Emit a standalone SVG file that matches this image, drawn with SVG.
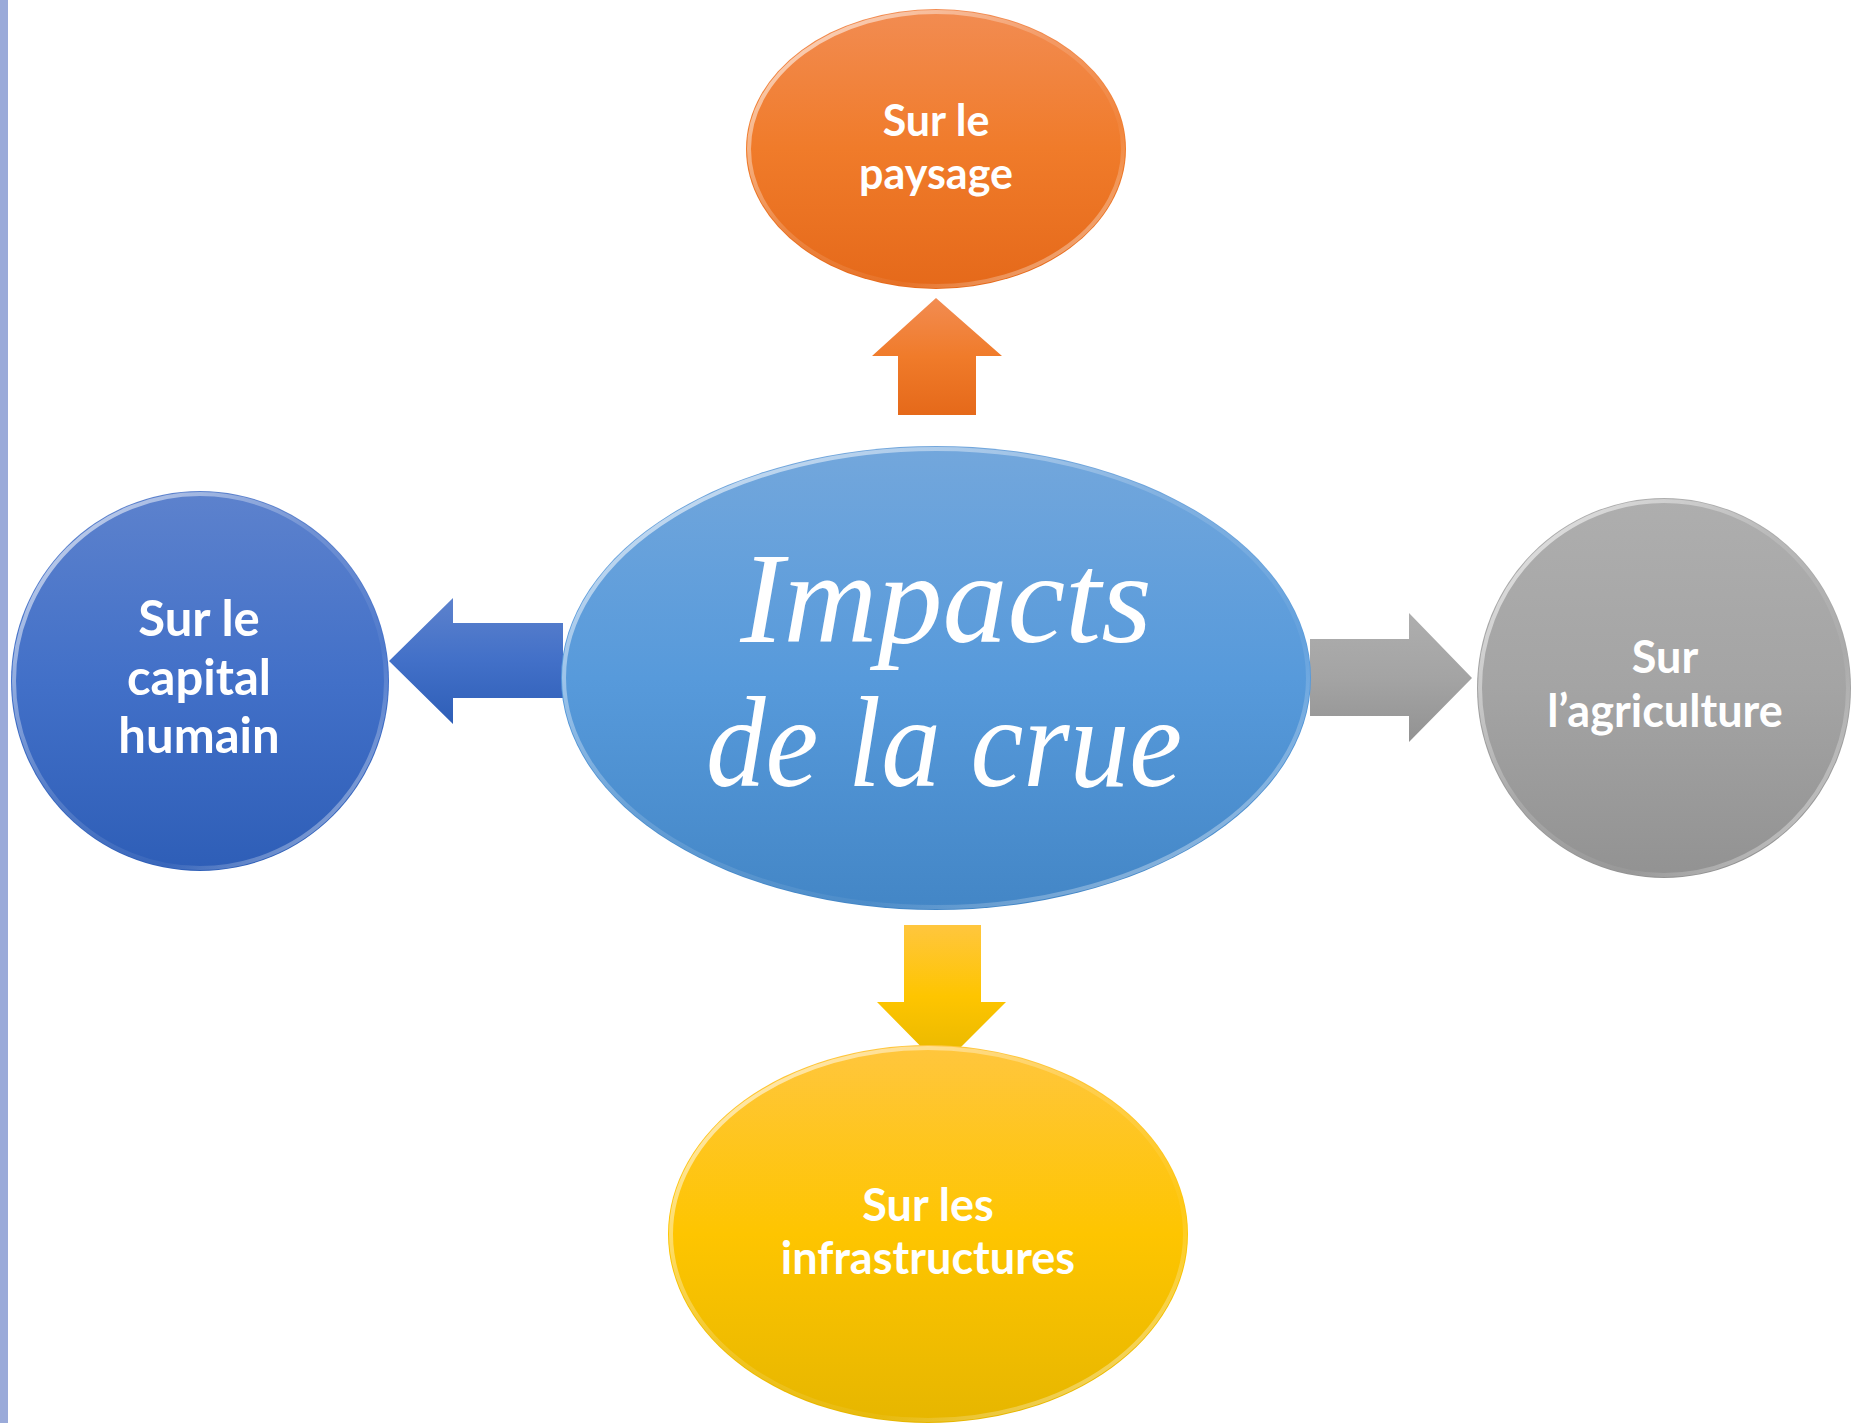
<svg xmlns="http://www.w3.org/2000/svg" width="1853" height="1423" viewBox="0 0 1853 1423">
<defs>
<linearGradient id="gOrange" x1="0" y1="0" x2="0" y2="1"><stop offset="0" stop-color="#F28C52"/><stop offset="0.5" stop-color="#F07B2A"/><stop offset="1" stop-color="#E5691A"/></linearGradient>
<linearGradient id="gBlue" x1="0" y1="0" x2="0" y2="1"><stop offset="0" stop-color="#73A7DC"/><stop offset="0.5" stop-color="#579ADB"/><stop offset="1" stop-color="#4386C6"/></linearGradient>
<linearGradient id="gDark" x1="0" y1="0" x2="0" y2="1"><stop offset="0" stop-color="#5D82CD"/><stop offset="0.5" stop-color="#4270C8"/><stop offset="1" stop-color="#2E5EB7"/></linearGradient>
<linearGradient id="gGray" x1="0" y1="0" x2="0" y2="1"><stop offset="0" stop-color="#AEAEAE"/><stop offset="0.5" stop-color="#A4A4A4"/><stop offset="1" stop-color="#929292"/></linearGradient>
<linearGradient id="gYellow" x1="0" y1="0" x2="0" y2="1"><stop offset="0" stop-color="#FFC63E"/><stop offset="0.5" stop-color="#FEC500"/><stop offset="1" stop-color="#E6B600"/></linearGradient>
<linearGradient id="gRim" x1="0" y1="0" x2="1" y2="1"><stop offset="0" stop-color="#FFFFFF" stop-opacity="0.75"/><stop offset="0.45" stop-color="#FFFFFF" stop-opacity="0.15"/><stop offset="0.7" stop-color="#FFFFFF" stop-opacity="0.05"/><stop offset="1" stop-color="#FFFFFF" stop-opacity="0.6"/></linearGradient>
</defs>
<style>
.lbl{font-family:Lato,"Open Sans","Liberation Sans",sans-serif;font-weight:700;fill:#FFFFFF;text-anchor:middle}
.main{font-family:"Liberation Serif","DejaVu Serif",serif;font-style:italic;font-size:130px;fill:#FFFFFF;text-anchor:middle}
.rim{fill:none;stroke:url(#gRim);stroke-width:4}
</style>
<rect x="0" y="0" width="1853" height="1423" fill="#FFFFFF"/>
<rect x="0" y="0" width="8" height="1423" fill="#9AAAD9"/>
<g id="connectors">
<polygon points="936,298 1002,356 976,356 976,415 898,415 898,356 872,356" fill="url(#gOrange)"/>
<polygon points="389,661 453,598 453,623 563,623 563,698 453,698 453,724" fill="url(#gDark)"/>
<polygon points="1472,678 1409,613 1409,639 1310,639 1310,716 1409,716 1409,742" fill="url(#gGray)"/>
<polygon points="941,1067 1006,1002 981,1002 981,925 904,925 904,1002 877,1002" fill="url(#gYellow)"/>
</g>
<g id="node-paysage">
<ellipse cx="936" cy="149" rx="190" ry="140" fill="url(#gOrange)"/>
<ellipse cx="936" cy="149" rx="187" ry="137" class="rim"/>
<text class="lbl" font-size="43" x="936" y="136">Sur le</text>
<text class="lbl" font-size="43" x="936" y="189">paysage</text>
</g>
<g id="node-center">
<ellipse cx="936" cy="678" rx="375" ry="232" fill="url(#gBlue)"/>
<ellipse cx="936" cy="678" rx="372" ry="229" class="rim"/>
<text class="main" x="946" y="642">Impacts</text>
<text class="main" x="944" y="786" textLength="476" lengthAdjust="spacingAndGlyphs">de la crue</text>
</g>
<g id="node-capital">
<ellipse cx="200" cy="681" rx="189" ry="190" fill="url(#gDark)"/>
<ellipse cx="200" cy="681" rx="186" ry="187" class="rim"/>
<text class="lbl" font-size="49" x="199" y="636">Sur le</text>
<text class="lbl" font-size="49" x="199" y="695">capital</text>
<text class="lbl" font-size="49" x="199" y="753">humain</text>
</g>
<g id="node-agriculture">
<ellipse cx="1664" cy="688" rx="187" ry="190" fill="url(#gGray)"/>
<ellipse cx="1664" cy="688" rx="184" ry="187" class="rim"/>
<text class="lbl" font-size="45" x="1665" y="673">Sur</text>
<text class="lbl" font-size="45" x="1665" y="727">l’agriculture</text>
</g>
<g id="node-infrastructures">
<ellipse cx="928" cy="1234" rx="260" ry="189" fill="url(#gYellow)"/>
<ellipse cx="928" cy="1234" rx="257" ry="186" class="rim"/>
<text class="lbl" font-size="45" x="928" y="1221">Sur les</text>
<text class="lbl" font-size="45" x="928" y="1274">infrastructures</text>
</g>
</svg>
